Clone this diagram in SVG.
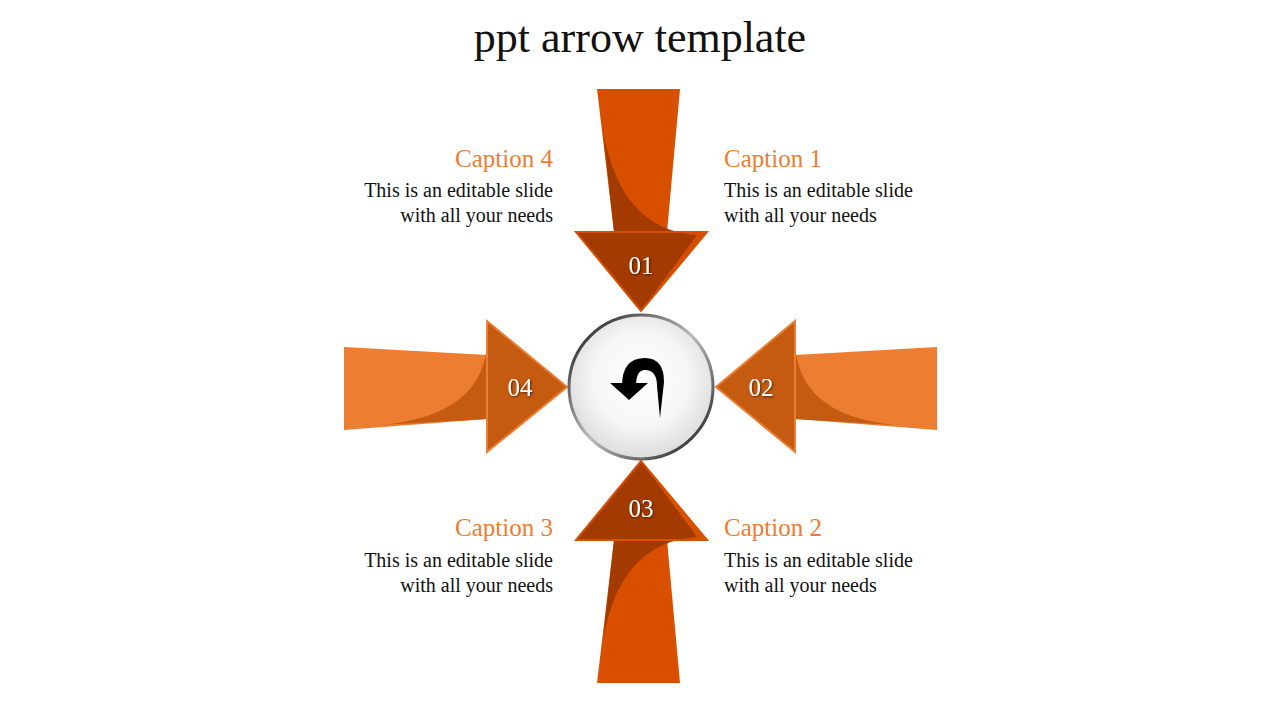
<svg xmlns="http://www.w3.org/2000/svg" width="1280" height="720" viewBox="0 0 1280 720">
<defs>
<radialGradient id="cg" cx="0.5" cy="0.45" r="0.55"><stop offset="0" stop-color="#ffffff"/><stop offset="0.6" stop-color="#f6f6f6"/><stop offset="1" stop-color="#dcdcdc"/></radialGradient>
<linearGradient id="rg" x1="0" y1="0" x2="1" y2="1"><stop offset="0" stop-color="#111"/><stop offset="0.5" stop-color="#bbb"/><stop offset="1" stop-color="#111"/></linearGradient>
<filter id="sh"><feDropShadow dx="1" dy="1" stdDeviation="0.8" flood-color="#000" flood-opacity="0.6"/></filter>
</defs>
<style>
.t{font-family:"Liberation Serif",serif}
.cap{font-family:"Liberation Serif",serif;font-size:25px;fill:#ED7D31}
.body{font-family:"Liberation Serif",serif;font-size:20px;fill:#111}
.num{font-family:"Liberation Serif",serif;font-size:25px;fill:#fff;text-anchor:middle;filter:url(#sh)}
</style>
<rect width="1280" height="720" fill="#fff"/>
<text class="t" x="640" y="52" font-size="44" text-anchor="middle" fill="#111">ppt arrow template</text>
<g id="arrow1">
<polygon points="597,89 680,89 667,232 707,232 641,311 576,232 614,232" fill="#D94F00"/>
<path d="M603,130 Q620,230 697,235 L641,311 576,232 614,232 Z" fill="#A33A00"/>
<polygon points="576,232 707,232 641,311" fill="none" stroke="#D94F00" stroke-width="2"/>
<text class="num" x="641" y="274">01</text>
</g>
<g id="arrow3">
<polygon points="597,683 680,683 667,540 707,540 641,461 576,540 614,540" fill="#D94F00"/>
<path d="M603,640 Q620,542 697,537 L641,461 576,540 614,540 Z" fill="#A33A00"/>
<polygon points="576,540 707,540 641,461" fill="none" stroke="#D94F00" stroke-width="2"/>
<text class="num" x="641" y="517">03</text>
</g>
<g id="arrow2">
<polygon points="937,347 937,430 795,419 795,452 716,387 795,321 795,355" fill="#ED7D31"/>
<path d="M795,330 Q790,415 895,425 L795,419 795,452 716,387 795,321 Z" fill="#C55A11"/>
<polygon points="795,321 795,452 716,387" fill="none" stroke="#ED7D31" stroke-width="2"/>
<text class="num" x="761" y="396">02</text>
</g>
<g id="arrow4">
<polygon points="344,347 344,430 487,419 487,452 567,387 487,321 487,355" fill="#ED7D31"/>
<path d="M487,330 Q492,415 380,425 L487,419 487,452 567,387 487,321 Z" fill="#C55A11"/>
<polygon points="487,321 487,452 567,387" fill="none" stroke="#ED7D31" stroke-width="2"/>
<text class="num" x="520" y="396">04</text>
</g>
<g id="center">
<circle cx="641" cy="387" r="72" fill="url(#cg)" stroke="url(#rg)" stroke-width="3"/>
<path d="M622,386 Q622,358 645,358 Q664,358 664,382 L660,418 L657,386 Q657,370 645,370 Q636,370 636,386 Z" fill="#000"/>
<polygon points="610,383 648,383 629,400" fill="#000"/>
</g>
<g id="captions">
<text class="cap" x="724" y="167">Caption 1</text>
<text class="body" x="724" y="197">This is an editable slide</text>
<text class="body" x="724" y="222">with all your needs</text>
<text class="cap" x="724" y="536">Caption 2</text>
<text class="body" x="724" y="567">This is an editable slide</text>
<text class="body" x="724" y="592">with all your needs</text>
<text class="cap" x="553" y="536" text-anchor="end">Caption 3</text>
<text class="body" x="553" y="567" text-anchor="end">This is an editable slide</text>
<text class="body" x="553" y="592" text-anchor="end">with all your needs</text>
<text class="cap" x="553" y="167" text-anchor="end">Caption 4</text>
<text class="body" x="553" y="197" text-anchor="end">This is an editable slide</text>
<text class="body" x="553" y="222" text-anchor="end">with all your needs</text>
</g>
</svg>
